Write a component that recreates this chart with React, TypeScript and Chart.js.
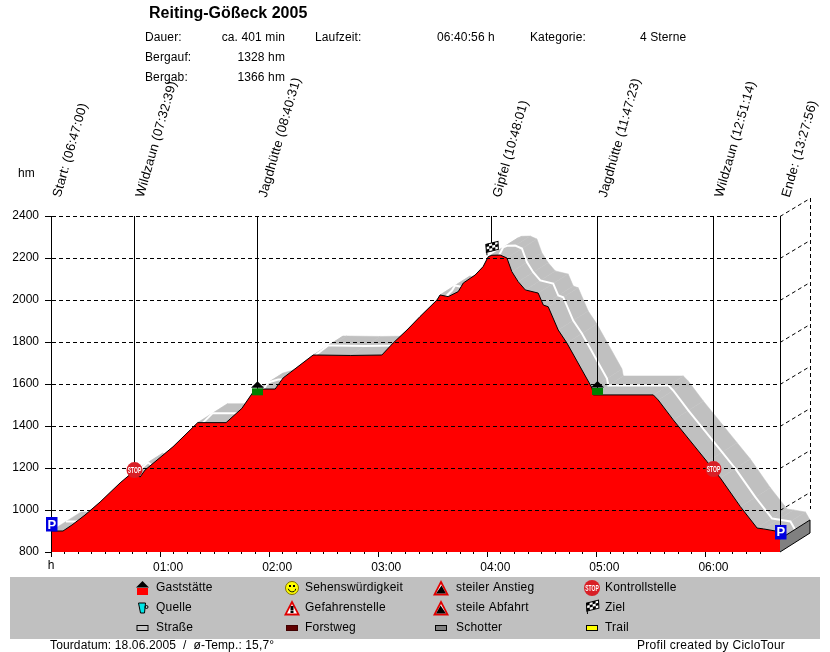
import React, { useEffect, useRef } from "react";
import { Chart, registerables } from "chart.js";

Chart.register(...registerables);

const titleText = "Reiting-Gößeck 2005";
const infoLeft = ["Dauer:", "Bergauf:", "Bergab:"];
const infoLeftValues = ["ca. 401 min", "1328 hm", "1366 hm"];
const timeMinutes = [0, 6.6, 11.6, 18.7, 27, 38, 45.1, 49, 51.7, 67.1, 80.7, 96.3, 105, 111.2, 116.7, 123.3, 127.7, 144.2, 146.2, 164.6, 182, 188.2, 195.8, 203, 212.3, 214, 218.5, 224, 226.8, 233.3, 237.7, 240.5, 242.5, 247.1, 250.8, 253.5, 257, 260.9, 268, 270.8, 273.5, 279, 283.8, 297.6, 298.3, 331.3, 334, 342.3, 360.9, 368.2, 379.2, 388.4, 391.9, 398.5, 401];
const elevations = [900, 900, 929, 976, 1038, 1129, 1181, 1157, 1190, 1301, 1416, 1416, 1484, 1562, 1576, 1576, 1629, 1738, 1738, 1736, 1738, 1795, 1857, 1921, 2000, 2024, 2016, 2040, 2081, 2119, 2159, 2206, 2213, 2214, 2200, 2135, 2087, 2048, 2033, 1976, 1968, 1857, 1795, 1581, 1548, 1548, 1524, 1429, 1230, 1152, 1016, 914, 910, 900, 862];
const waypointLabels = ["Start: (06:47:00)", "Wildzaun (07:32:39)", "Jagdhütte (08:40:31)", "Gipfel (10:48:01)", "Jagdhütte (11:47:23)", "Wildzaun (12:51:14)", "Ende: (13:27:56)"];
const waypointTimes = [0, 45.65, 113.5, 242.3, 300.4, 364.2, 401];
const waypointElevations = [900, 1190, 1546, 2213, 1548, 1195, 862];
const waypointIcons = ["parking", "stop", "houseGreen", "flag", "houseGreen", "stop", "parking"];
const legendLabels = [
  ["Gaststätte", "Quelle", "Straße"],
  ["Sehenswürdigkeit", "Gefahrenstelle", "Forstweg"],
  ["steiler Anstieg", "steile Abfahrt", "Schotter"],
  ["Kontrollstelle", "Ziel", "Trail"],
];
const legendIcons = [
  ["houseRed", "spring", "swRoad"],
  ["smiley", "danger", "swForest"],
  ["up", "down", "swGravel"],
  ["stop", "flag", "swTrail"],
];

const FONT = '"Liberation Sans", Arial, sans-serif';
const DEPTH_X = 30;
const DEPTH_Y = -19;

function tri(c: any, cx: number, cy: number) {
  c.fillStyle = "#e00000";
  c.beginPath(); c.moveTo(cx, cy - 8); c.lineTo(cx + 8, cy + 7.5); c.lineTo(cx - 8, cy + 7.5); c.closePath(); c.fill();
  c.fillStyle = "#fff";
  c.beginPath(); c.moveTo(cx, cy - 4); c.lineTo(cx + 5, cy + 5.5); c.lineTo(cx - 5, cy + 5.5); c.closePath(); c.fill();
}

function drawFlag(c: any, cx: number, bottom: number) {
  c.strokeStyle = "#000"; c.lineWidth = 1;
  c.beginPath(); c.moveTo(cx - 4.5, bottom); c.lineTo(cx - 5.5, bottom - 11); c.stroke();
  c.save();
  c.translate(cx - 5.5, bottom - 11);
  c.transform(1, -0.25, 0.05, 1, 0, 0);
  c.fillStyle = "#fff"; c.fillRect(0, 0, 12, 8);
  c.fillStyle = "#000";
  for (let i = 0; i < 4; i++) for (let j = 0; j < 3; j++) if ((i + j) % 2 === 0) c.fillRect(i * 3, j * 2.67, 3, 2.67);
  c.strokeRect(0, 0, 12, 8);
  c.restore();
}

function drawIcon(c: any, kind: string, cx: number, y: number) {
  c.save();
  c.setLineDash([]);
  if (kind === "parking") {
    c.fillStyle = "#0000e0"; c.fillRect(cx - 5.5, y - 14, 11.5, 14.5);
    c.fillStyle = "#fff"; c.font = `bold 13px ${FONT}`; c.textAlign = "center"; c.textBaseline = "alphabetic";
    c.fillText("P", cx + 0.4, y - 2.5);
  } else if (kind === "stop") {
    c.fillStyle = "#d81f26"; c.beginPath(); c.arc(cx, y, 8, 0, Math.PI * 2); c.fill();
    c.save(); c.translate(cx, y + 3); c.scale(0.55, 1);
    c.fillStyle = "#fff"; c.font = `bold 9px ${FONT}`; c.textAlign = "center"; c.textBaseline = "alphabetic";
    c.fillText("STOP", 0, 0); c.restore();
  } else if (kind === "houseGreen" || kind === "houseRed") {
    c.fillStyle = "#000"; c.beginPath(); c.moveTo(cx, y - 14); c.lineTo(cx + 6.5, y - 7.5); c.lineTo(cx - 6.5, y - 7.5); c.closePath(); c.fill();
    c.fillStyle = kind === "houseGreen" ? "#008000" : "#ff0000"; c.fillRect(cx - 5.5, y - 7, 11, 7);
  } else if (kind === "flag") {
    drawFlag(c, cx, y);
  } else if (kind === "spring") {
    c.fillStyle = "#00e8e8"; c.strokeStyle = "#000"; c.lineWidth = 1;
    c.beginPath(); c.moveTo(cx - 4, y - 5); c.lineTo(cx + 3, y - 5); c.lineTo(cx + 2, y + 5); c.lineTo(cx - 2, y + 5); c.closePath(); c.fill(); c.stroke();
    c.beginPath(); c.arc(cx + 4, y - 1, 1.5, 0, Math.PI * 2); c.stroke();
  } else if (kind === "smiley") {
    c.fillStyle = "#ffff00"; c.strokeStyle = "#807000"; c.lineWidth = 1;
    c.beginPath(); c.arc(cx, y, 6.5, 0, Math.PI * 2); c.fill(); c.stroke();
    c.fillStyle = "#000"; c.fillRect(cx - 3, y - 3, 2, 2); c.fillRect(cx + 1, y - 3, 2, 2);
    c.strokeStyle = "#000"; c.beginPath(); c.arc(cx, y, 3.8, 0.2, Math.PI - 0.2); c.stroke();
  } else if (kind === "danger") {
    tri(c, cx, y);
    c.fillStyle = "#000"; c.fillRect(cx - 1.5, y - 2, 3, 4.5); c.fillRect(cx - 1.5, y + 3, 3, 2);
  } else if (kind === "up") {
    tri(c, cx, y);
    c.fillStyle = "#000"; c.beginPath(); c.moveTo(cx - 5, y + 5.5); c.lineTo(cx + 0.5, y - 2.5); c.lineTo(cx + 5, y + 5.5); c.closePath(); c.fill();
  } else if (kind === "down") {
    tri(c, cx, y);
    c.fillStyle = "#000"; c.beginPath(); c.moveTo(cx + 5, y + 5.5); c.lineTo(cx - 0.5, y - 2.5); c.lineTo(cx - 5, y + 5.5); c.closePath(); c.fill();
  } else if (kind.startsWith("sw")) {
    const fill = kind === "swRoad" ? "#c8c8c8" : kind === "swForest" ? "#600000" : kind === "swGravel" ? "#808080" : "#ffff00";
    c.fillStyle = fill; c.fillRect(cx - 6, y - 2.5, 12, 5);
    c.strokeStyle = kind === "swForest" ? "#400000" : "#000"; c.lineWidth = 1; c.strokeRect(cx - 5.5, y - 2.5, 11, 5);
  }
  c.restore();
}

function txt(c: any, s: string, x: number, y: number, align = "left", font = `12px ${FONT}`, spacing = "0px") {
  c.font = font; c.textAlign = align; c.textBaseline = "middle"; c.fillStyle = "#000";
  c.letterSpacing = spacing;
  c.fillText(s, x, y + 1);
  c.letterSpacing = "0px";
}

const ribbonPlugin = {
  id: "ribbon",
  beforeDatasetsDraw(chart: any) {
    const c = chart.ctx;
    const x = chart.scales.x, y = chart.scales.y;
    const px = timeMinutes.map((t) => x.getPixelForValue(t));
    const py = elevations.map((e) => y.getPixelForValue(e));
    c.save();
    c.fillStyle = "#c0c0c0";
    c.strokeStyle = "#c0c0c0";
    c.lineWidth = 0.5;
    for (let i = 0; i < px.length - 1; i++) {
      c.beginPath();
      c.moveTo(px[i], py[i]);
      c.lineTo(px[i + 1], py[i + 1]);
      c.lineTo(px[i + 1] + DEPTH_X, py[i + 1] + DEPTH_Y);
      c.lineTo(px[i] + DEPTH_X, py[i] + DEPTH_Y);
      c.closePath();
      c.fill();
      c.stroke();
    }
    c.strokeStyle = "#ffffff";
    c.lineWidth = 2;
    c.beginPath();
    px.forEach((p, i) => {
      const a = p + DEPTH_X / 2, b = py[i] + DEPTH_Y / 2;
      if (i === 0) c.moveTo(a, b); else c.lineTo(a, b);
    });
    c.stroke();
    const n = px.length - 1;
    const bottom = y.getPixelForValue(800);
    c.fillStyle = "#808080";
    c.beginPath();
    c.moveTo(px[n], bottom);
    c.lineTo(px[n] + DEPTH_X, bottom + DEPTH_Y);
    c.lineTo(px[n] + DEPTH_X, py[n] + DEPTH_Y);
    c.lineTo(px[n], py[n]);
    c.closePath();
    c.fill();
    c.strokeStyle = "#000"; c.lineWidth = 1;
    c.beginPath();
    c.moveTo(px[n], bottom);
    c.lineTo(px[n] + DEPTH_X, bottom + DEPTH_Y);
    c.lineTo(px[n] + DEPTH_X, py[n] + DEPTH_Y);
    c.lineTo(px[n], py[n]);
    c.stroke();
    c.restore();
  },
};

const decorPlugin = {
  id: "decor",
  afterDraw(chart: any) {
    const c = chart.ctx;
    const x = chart.scales.x, y = chart.scales.y;
    const area = chart.chartArea;
    c.save();

    c.strokeStyle = "#000"; c.lineWidth = 1;
    c.setLineDash([4, 3]);
    for (const t of y.ticks) {
      const p = Math.round(y.getPixelForValue(t.value)) + 0.5;
      if (t.value === 800) continue;
      c.beginPath(); c.moveTo(area.right, p); c.lineTo(area.right + DEPTH_X, p + DEPTH_Y + 1); c.stroke();
    }
    c.beginPath(); c.moveTo(area.right + DEPTH_X + 0.5, area.top + DEPTH_Y + 1); c.lineTo(area.right + DEPTH_X + 0.5, area.bottom + DEPTH_Y - 24); c.stroke();
    c.setLineDash([]);

    for (const t of x.ticks) {
      if (t.value % 60 === 0) {
        const p = Math.round(x.getPixelForValue(t.value)) + 0.5;
        c.beginPath(); c.moveTo(p, area.bottom); c.lineTo(p, area.bottom + 5); c.stroke();
      }
    }

    waypointLabels.forEach((label, i) => {
      const p = Math.round(x.getPixelForValue(waypointTimes[i])) + 0.5;
      const q = y.getPixelForValue(waypointElevations[i]);
      c.strokeStyle = "#000"; c.lineWidth = 1;
      c.beginPath(); c.moveTo(p, area.top); c.lineTo(p, q - 4); c.stroke();
      drawIcon(c, waypointIcons[i], p, q);
      c.save();
      c.translate(p + 9, 198);
      c.rotate((-74 * Math.PI) / 180);
      c.font = `13px ${FONT}`; c.textAlign = "left"; c.textBaseline = "alphabetic"; c.fillStyle = "#000";
      c.letterSpacing = "0.2px";
      c.fillText(label, 0, 0);
      c.letterSpacing = "0px";
      c.restore();
    });

    txt(c, titleText, 149, 13, "left", `bold 16px ${FONT}`);
    const hf = `12px ${FONT}`;
    const hs = "0.12px";
    infoLeft.forEach((s, i) => {
      txt(c, s, 145, 37 + i * 20, "left", hf, hs);
      txt(c, infoLeftValues[i], 285, 37 + i * 20, "right", hf, hs);
    });
    txt(c, "Laufzeit:", 315, 37, "left", hf, hs);
    txt(c, "06:40:56 h", 437, 37, "left", hf, hs);
    txt(c, "Kategorie:", 530, 37, "left", hf, hs);
    txt(c, "4 Sterne", 640, 37, "left", hf, hs);
    txt(c, "hm", 18, 173);
    txt(c, "h", 51, 565, "center");

    c.fillStyle = "#c0c0c0"; c.fillRect(10, 577, 810, 62);
    const iconX = [142.5, 292, 441, 592];
    const textX = [156, 305, 456, 605];
    const ls = "0.2px";
    legendLabels.forEach((col, i) => {
      col.forEach((s, j) => {
        const yy = 587 + j * 20;
        const kind = legendIcons[i][j];
        const ay = kind === "houseRed" ? yy + 8 : kind === "flag" ? yy + 7 : yy + 1;
        drawIcon(c, kind, iconX[i], ay);
        txt(c, s, textX[i], yy, "left", hf, ls);
      });
    });

    txt(c, "Tourdatum: 18.06.2005  /  ø-Temp.: 15,7°", 50, 645, "left", hf, "0.13px");
    txt(c, "Profil created by CicloTour", 637, 645, "left", hf, "0.3px");
    c.restore();
  },
};

export default function App() {
  const ref = useRef<HTMLCanvasElement | null>(null);
  useEffect(() => {
    const chart = new Chart(ref.current as any, {
      type: "line",
      data: {
        datasets: [
          {
            label: "Höhe",
            data: timeMinutes.map((t, i) => ({ x: t, y: elevations[i] })),
            borderColor: "#000",
            borderWidth: 1,
            backgroundColor: "#ff0000",
            fill: "origin",
            pointRadius: 0,
            tension: 0,
          },
        ],
      },
      options: {
        animation: false,
        responsive: false,
        devicePixelRatio: 1,
        layout: { padding: { top: 216, right: 50, left: 0, bottom: 0 } },
        plugins: { legend: { display: false }, title: { display: false }, tooltip: { enabled: false } },
        scales: {
          x: {
            type: "linear",
            min: 0,
            max: 401,
            afterFit(s: any) { s.height = 100; },
            border: { display: false },
            grid: {
              display: true,
              drawOnChartArea: false,
              drawTicks: true,
              tickLength: 2,
              tickColor: (ctx: any) => (ctx.tick && ctx.tick.value === 401 ? "transparent" : "#000"),
            },
            ticks: {
              stepSize: 7.5,
              autoSkip: false,
              maxRotation: 0,
              minRotation: 0,
              padding: 6,
              labelOffset: 8,
              color: "#000",
              font: { family: FONT, size: 12 },
              callback: (v: any) => {
                const n = Number(v);
                if (n > 0 && n % 60 === 0) return `0${n / 60}:00`;
                return "";
              },
            },
          },
          y: {
            type: "linear",
            min: 800,
            max: 2400,
            afterFit(s: any) { s.width = 51; },
            border: { display: true, color: "#000", width: 1, z: 1, dash: [4, 3] },
            grid: {
              z: 1,
              color: (ctx: any) => (ctx.tick && ctx.tick.value === 800 ? "transparent" : "#000"),
              tickColor: "#000",
              tickLength: 6,
              lineWidth: 1,
              tickBorderDash: [1, 0],
            } as any,
            ticks: {
              stepSize: 200,
              padding: 6,
              color: "#000",
              font: { family: FONT, size: 12 },
              callback: (v: any) => String(v),
            },
          },
        },
      } as any,
      plugins: [ribbonPlugin, decorPlugin],
    } as any);
    return () => chart.destroy();
  }, []);
  return (
    <canvas
      ref={ref}
      width={830}
      height={652}
      style={{ position: "absolute", left: 0, top: 0, width: 830, height: 652, background: "#fff" }}
    />
  );
}
